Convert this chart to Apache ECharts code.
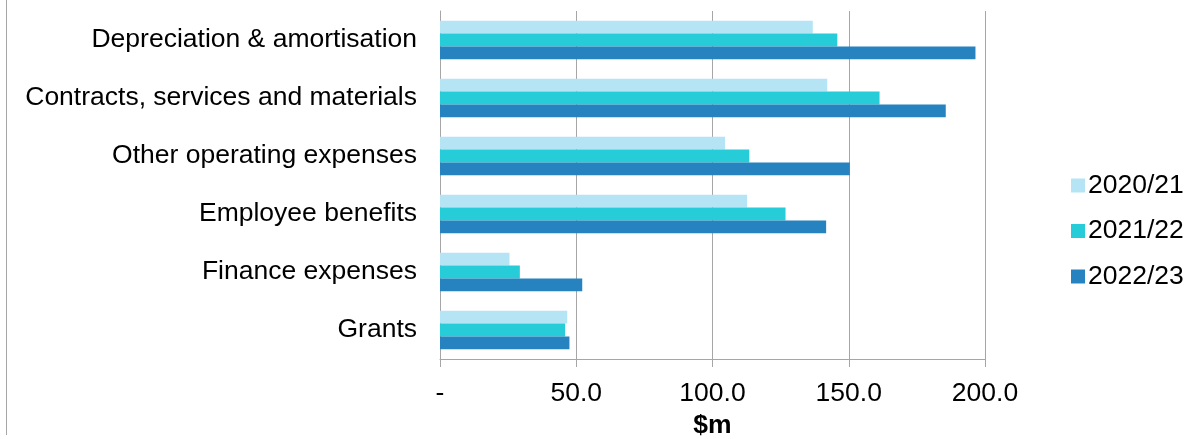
<!DOCTYPE html>
<html>
<head>
<meta charset="utf-8">
<script src="https://cdn.jsdelivr.net/npm/echarts@6/dist/echarts.min.js"></script>
<style>html,body{margin:0;padding:0;background:#fff;}#c{width:1184px;height:439px;}</style>
</head>
<body>
<div id="c"></div>
<script>
const categories = ['Depreciation & amortisation','Contracts, services and materials','Other operating expenses','Employee benefits','Finance expenses','Grants'];
const seriesNames = ['2020/21','2021/22','2022/23'];
const v2021 = [136.8, 142.1, 104.6, 112.7, 25.5, 46.7];
const v2122 = [145.8, 161.3, 113.5, 126.8, 29.3, 45.9];
const v2223 = [196.5, 185.6, 150.4, 141.7, 52.2, 47.5];
const xTicks = [0, 50, 100, 150, 200];
const colors = ['#b5e4f5', '#26ccd8', '#2683c0'];

const chart = echarts.init(document.getElementById('c'));
const font = 'Liberation Sans, Arial, sans-serif';
const fs = 26.5;
const data = [v2021, v2122, v2223];
chart.setOption({
  animation: false,
  textStyle: {fontFamily: font},
  graphic: [{type: 'line', shape: {x1: 6.5, y1: 0, x2: 6.5, y2: 435}, style: {stroke: '#a6a6a6', lineWidth: 1}}],
  legend: {
    orient: 'vertical', left: 1066, top: 167, itemGap: 18.5,
    itemWidth: 14, itemHeight: 14, icon: 'rect',
    textStyle: {fontSize: fs, color: '#000', fontFamily: font, padding: [0, 0, 0, -2]},
    data: seriesNames
  },
  grid: {left: 440, right: 199, top: 11, bottom: 80, containLabel: false, outerBoundsMode: 'none'},
  xAxis: {
    type: 'value', min: xTicks[0], max: xTicks[xTicks.length-1], interval: 50,
    name: '$m', nameLocation: 'middle', nameGap: 66,
    nameTextStyle: {fontSize: fs, fontWeight: 'bold', color: '#000', fontFamily: font, verticalAlign: 'middle'},
    axisLine: {show: true, lineStyle: {color: '#a6a6a6'}},
    axisTick: {show: true, length: 8, lineStyle: {color: '#a6a6a6'}},
    splitLine: {show: true, lineStyle: {color: '#a6a6a6'}},
    axisLabel: {fontSize: fs, color: '#000', margin: 21, fontFamily: font,
      formatter: v => v === 0 ? '-' : v.toFixed(1)}
  },
  yAxis: {
    type: 'category', data: categories, inverse: true,
    axisLine: {show: true, lineStyle: {color: '#a6a6a6'}},
    axisTick: {show: false},
    axisLabel: {fontSize: fs, color: '#000', margin: 23, fontFamily: font}
  },
  series: seriesNames.map((n, i) => ({
    name: n, type: 'bar', data: data[i], barGap: '0%', barCategoryGap: '33.4%',
    itemStyle: {color: colors[i]}
  }))
});
</script>
</body>
</html>
